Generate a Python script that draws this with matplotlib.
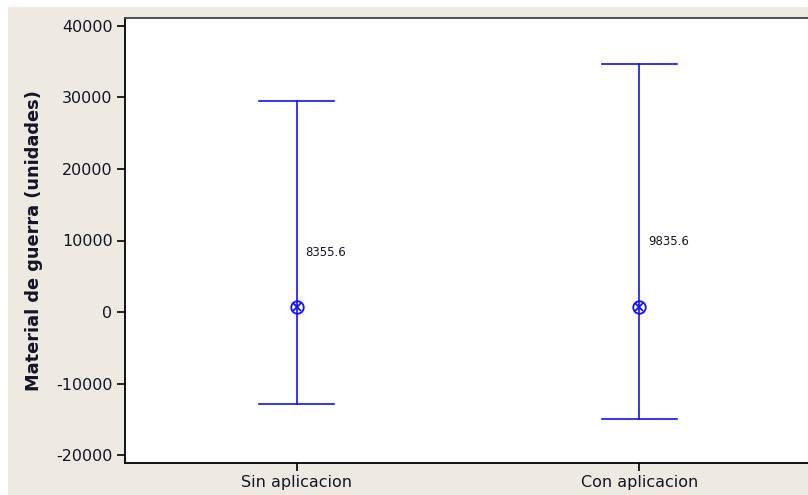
import matplotlib
matplotlib.use("Agg")
import matplotlib.pyplot as plt
from matplotlib.patches import Rectangle

categories = ["Sin aplicacion", "Con aplicacion"]
means = [8355.6, 9835.6]
upper = [29500, 34700]
lower = [-12800, -15000]
centers = [750, 750]
yticks = [-20000, -10000, 0, 10000, 20000, 30000, 40000]
ylabel = "Material de guerra (unidades)"

plt.rcParams['font.family'] = ['DejaVu Sans']

fig = plt.figure(figsize=(8.08, 4.95), dpi=100, facecolor="white")
fig.patches.append(Rectangle((8/808, -0.01), 1, 1.01 - 7/495, transform=fig.transFigure,
                             facecolor="#EEEAE1", edgecolor="none", zorder=-10))

W, H = 808, 495
ax = fig.add_axes([125/W, 1 - 463/H, 686/W, (463 - 18)/H])
ax.set_facecolor("white")

blue = "#1010FF"
txtc = "#141428"
xs = list(range(1, len(categories) + 1))
cap = 0.108
for x, lo, hi, c, m in zip(xs, lower, upper, centers, means):
    ax.plot([x, x], [lo, hi], color=blue, lw=1.2, zorder=2)
    ax.plot([x - cap, x + cap], [hi, hi], color=blue, lw=1.2, zorder=2)
    ax.plot([x - cap, x + cap], [lo, lo], color=blue, lw=1.2, zorder=2)
    ax.plot([x], [c], marker='o', ms=9, mfc='none', mec=blue, mew=1.3, zorder=3)
    ax.plot([x], [c], marker='x', ms=6, mec=blue, mew=1.3, zorder=3)
    ax.text(x + 0.025, m, f"{m:.1f}", fontsize=8.5, va='center', ha='left', color=txtc)

ax.set_xlim(0.5, 2.5)
ax.set_ylim(-21100, 41100)
ax.set_yticks(yticks)
ax.set_yticklabels([str(t) for t in yticks], fontsize=11.5, color=txtc)
ax.set_xticks(xs)
ax.set_xticklabels(categories, fontsize=11.5, color=txtc)
ax.tick_params(axis='both', direction='out', length=6, width=1.2, color='black', pad=3)
ax.set_ylabel(ylabel, fontsize=12.8, fontweight='bold', labelpad=9, color=txtc)

for s in ['left', 'bottom']:
    ax.spines[s].set_linewidth(1.3)
    ax.spines[s].set_color('black')
ax.spines['top'].set_color('#444444')
ax.spines['top'].set_linewidth(1.3)
ax.spines['right'].set_visible(False)

fig.savefig("out.png", dpi=100, facecolor=fig.get_facecolor())
